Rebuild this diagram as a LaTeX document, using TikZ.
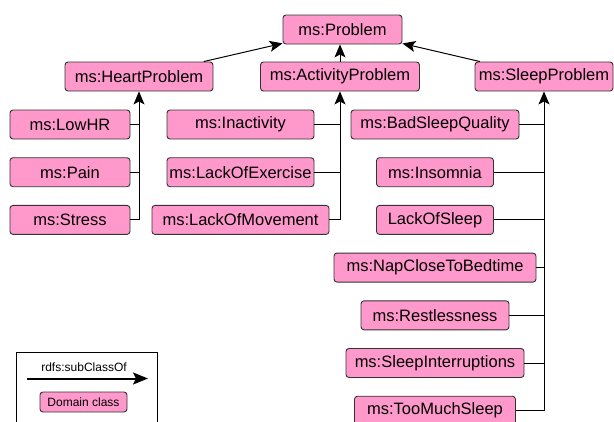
\documentclass[tikz,border=0pt]{standalone}
\usepackage{fontspec}
\setmainfont{Liberation Sans}
\usetikzlibrary{arrows.meta}
\definecolor{classpink}{HTML}{FF99CC}
\definecolor{edgegray}{HTML}{333333}

\begin{document}
\begin{tikzpicture}[x=1pt, y=-1pt, node distance=47.7pt,
  main/.style = {draw=edgegray, fill=classpink, rounded corners=3pt, line width=0.9pt, inner sep=0pt, minimum height=29pt, font=\fontsize{16.5}{18}\selectfont},
  small/.style = {font=\fontsize{12}{14}\selectfont},
  sub/.style = {line width=1pt, -{Stealth[length=13pt, width=11pt, inset=3pt]}},
  link/.style = {line width=1pt}]
\useasboundingbox (0,0) rectangle (614,421);
\node[main, minimum width=119pt] (problem) at (342.5,29.5) {ms:Problem};
\node[main, minimum width=148pt] (heart) at (139,76.5) {ms:HeartProblem};
\node[main, minimum width=159pt] (activity) at (340,76.5) {ms:ActivityProblem};
\node[main, minimum width=138pt] (sleep) at (544,76.5) {ms:SleepProblem};
\node[main, minimum width=120pt] (lowhr) at (70,124.5) {ms:LowHR};
\node[main, minimum width=120pt] (pain)[below of = lowhr] {ms:Pain};
\node[main, minimum width=120pt] (stress)[below of = pain] {ms:Stress};
\node[main, minimum width=147pt] (inactivity) at (240.5,124.5) {ms:Inactivity};
\node[main, minimum width=147pt] (exercise)[below of = inactivity] {ms:LackOfExercise};
\node[main, minimum width=177pt] (movement)[below of = exercise] {ms:LackOfMovement};
\node[main, minimum width=168pt] (quality) at (435,124.5) {ms:BadSleepQuality};
\node[main, minimum width=117pt] (insomnia)[below of = quality] {ms:Insomnia};
\node[main, minimum width=117pt] (lacksleep)[below of = insomnia] {LackOfSleep};
\node[main, minimum width=202pt] (nap)[below of = lacksleep] {ms:NapCloseToBedtime};
\node[main, minimum width=148pt] (restless)[below of = nap] {ms:Restlessness};
\node[main, minimum width=178pt] (interrupt)[below of = restless] {ms:SleepInterruptions};
\node[main, minimum width=161pt] (toomuch)[below of = interrupt] {ms:TooMuchSleep};
\draw[sub] (heart) -- (problem);
\draw[sub] (activity.north) -- (activity.north |- problem.south);
\draw[sub] (sleep) -- (problem);
\draw[sub] (stress.east) -| (heart.south);
\draw[link] (lowhr.east) -- (lowhr.east -| heart.south);
\draw[link] (pain.east) -- (pain.east -| heart.south);
\draw[sub] (movement.east) -| (activity.south);
\draw[link] (inactivity.east) -- (inactivity.east -| activity.south);
\draw[link] (exercise.east) -- (exercise.east -| activity.south);
\draw[sub] (toomuch.east) -| (sleep.south);
\draw[link] (quality.east) -- (quality.east -| sleep.south);
\draw[link] (insomnia.east) -- (insomnia.east -| sleep.south);
\draw[link] (lacksleep.east) -- (lacksleep.east -| sleep.south);
\draw[link] (nap.east) -- (nap.east -| sleep.south);
\draw[link] (restless.east) -- (restless.east -| sleep.south);
\draw[link] (interrupt.east) -- (interrupt.east -| sleep.south);
\draw[line width=0.8pt] (16,352) rectangle (157,430);
\node[small] (sublabel) at (84,367) {rdfs:subClassOf};
\coordinate (legfrom) at (27,378.5);
\coordinate (legto) at (148,378.5);
\draw[line width=2pt, -{Stealth[length=15pt, width=12pt, inset=3pt]}] (legfrom) -- (legto);
\node[main, small, minimum width=87pt, minimum height=20pt] (domain) at (83.5,402) {Domain class};
\end{tikzpicture}
\end{document}
